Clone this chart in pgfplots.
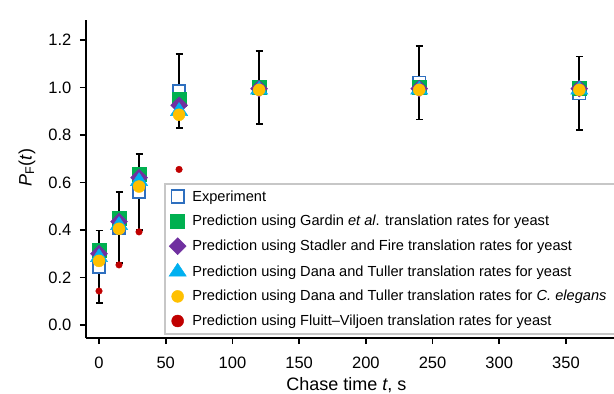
\documentclass[border=0pt]{standalone}
\usepackage{fontspec}
\setmainfont{Liberation Sans}
\usepackage{pgfplots}
\pgfplotsset{compat=1.18}
\definecolor{expblue}{HTML}{2E6FBF}
\definecolor{ggreen}{HTML}{00B050}
\definecolor{ppurple}{HTML}{7030A0}
\definecolor{ccyan}{HTML}{00B0F0}
\definecolor{yyellow}{HTML}{FFC000}
\definecolor{rred}{HTML}{C00000}
\pgfplotstableread{
t y err
0 0.245 0.153
15 0.41 0.15
30 0.56 0.16
60 0.985 0.155
120 1.0 0.155
240 1.02 0.155
360 0.975 0.155
}\experiment
\pgfplotstableread{
t y
0 0.315
15 0.45
30 0.635
60 0.95
120 1.0
240 1.0
360 0.995
}\gardin
\pgfplotstableread{
t y
0 0.30
15 0.435
30 0.62
60 0.925
120 0.995
240 0.995
360 0.995
}\stadler
\pgfplotstableread{
t y
0 0.285
15 0.42
30 0.605
60 0.90
120 0.99
240 0.99
360 0.99
}\danayeast
\pgfplotstableread{
t y
0 0.27
15 0.405
30 0.583
60 0.885
120 0.99
240 0.99
360 0.99
}\danaelegans
\pgfplotstableread{
t y
0 0.143
15 0.253
30 0.392
60 0.655
120 0.99
240 0.99
360 0.99
}\fluitt
\begin{document}
\begin{tikzpicture}[x=1pt,y=1pt]
\useasboundingbox (-86,-56) rectangle (528,338);
\begin{axis}[at={(0,0)}, anchor=south west, scale only axis,
  width=528pt, height=318pt,
  xmin=-9.75, xmax=386, ymin=-0.0547, ymax=1.284,
  axis lines=left, axis line style={-, line width=1.8pt, black},
  tick align=outside, major tick length=6pt,
  tick style={black, line width=1.8pt},
  xtick={0,50,100,150,200,250,300,350},
  ytick={0,0.2,0.4,0.6,0.8,1.0,1.2},
  /pgf/number format/assume math mode=true,
  yticklabel style={/pgf/number format/.cd, fixed, fixed zerofill, precision=1, /tikz/.cd,
     anchor=east, inner sep=0pt, xshift=-8.5pt},
  xticklabel style={anchor=north, inner sep=0pt, yshift=-12.7pt},
  tick label style={font=\fontsize{16.5}{19}\selectfont},
  label style={font=\fontsize{18}{21}\selectfont},
  xlabel={Chase time \textit{t}, s},
  xlabel style={at={(axis description cs:0.493,0)}, anchor=base, yshift=-52pt},
  ylabel={\textit{P}\textsubscript{F}(\textit{t})},
  ylabel style={at={(axis description cs:-0.112,0.535)}, anchor=center},
  legend image code/.code={\draw[#1] plot coordinates {(7pt,0pt)}; \path (0pt,-7pt) (14pt,7pt);},
  legend cell align=left,
  legend style={at={(rel axis cs:0.1477,0.4874)}, anchor=north west,
    draw=black!22, line width=2pt, fill=white,
    inner xsep=4pt, inner ysep=4.5pt, row sep=8.5pt, column sep=4pt,
    font=\fontsize{14.6}{17}\selectfont},
]
\addplot[forget plot, only marks, mark=none,
  error bars/.cd, y dir=both, y explicit,
  error bar style={black, line width=1.8pt},
  error mark options={black, line width=1.8pt, mark size=3.5pt, rotate=90}]
  table[x=t, y=y, y error=err]{\experiment};
\addplot[forget plot, only marks, mark=*, mark size=3.3pt, color=rred] table[x=t,y=y]{\fluitt};
\addplot[forget plot, only marks, mark=square*, mark size=6.2pt, mark options={draw=expblue, fill=white, line width=1.8pt}] table[x=t,y=y]{\experiment};
\addplot[forget plot, only marks, mark=square*, mark size=7pt, color=ggreen] table[x=t,y=y]{\gardin};
\addplot[forget plot, only marks, mark=square*, mark size=6pt, mark options={rotate=45}, color=ppurple] table[x=t,y=y]{\stadler};
\addplot[forget plot, only marks, mark=triangle*, mark size=8.7pt, mark options={xscale=1.15}, color=ccyan] table[x=t,y=y]{\danayeast};
\addplot[forget plot, only marks, mark=*, mark size=6pt, color=yyellow] table[x=t,y=y]{\danaelegans};

\addlegendimage{only marks, mark=square*, mark size=6.2pt, mark options={draw=expblue, fill=white, line width=1.8pt}}
\addlegendentry{Experiment}
\addlegendimage{only marks, mark=square*, mark size=7pt, color=ggreen, line width=0.4pt}
\addlegendentry{Prediction using Gardin \textit{et al}. translation rates for yeast}
\addlegendimage{only marks, mark=square*, mark size=6pt, mark options={rotate=45}, color=ppurple, line width=0.4pt}
\addlegendentry{Prediction using Stadler and Fire translation rates for yeast}
\addlegendimage{only marks, mark=triangle*, mark size=8.7pt, mark options={xscale=1.15}, color=ccyan, line width=0.4pt}
\addlegendentry{Prediction using Dana and Tuller translation rates for yeast}
\addlegendimage{only marks, mark=*, mark size=6pt, color=yyellow, line width=0.4pt}
\addlegendentry{Prediction using Dana and Tuller translation rates for \textit{C. elegans}\hspace*{10pt}}
\addlegendimage{only marks, mark=*, mark size=6pt, color=rred, line width=0.4pt}
\addlegendentry{Prediction using Fluitt--Viljoen translation rates for yeast}
\end{axis}
\end{tikzpicture}
\end{document}
